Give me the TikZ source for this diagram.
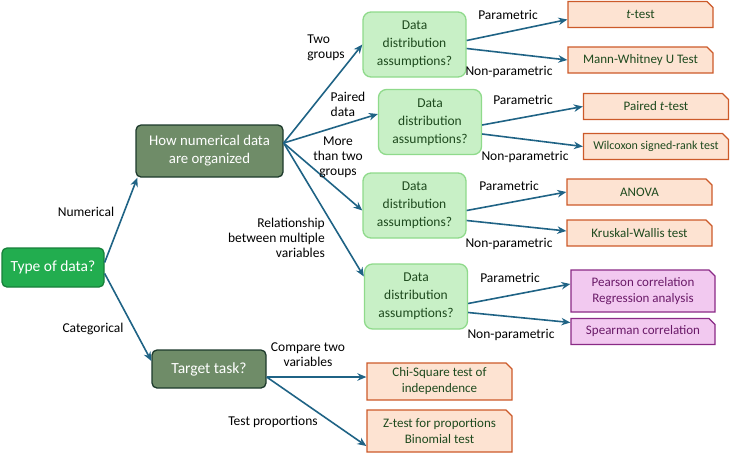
\documentclass[tikz,border=0pt]{standalone}
\usepackage{fontspec}
\setmainfont{Carlito}
\usetikzlibrary{positioning, arrows.meta, shapes.misc}

\definecolor{rootgreen}{HTML}{22AD4F}
\definecolor{rootedge}{HTML}{17803A}
\definecolor{sage}{HTML}{6F8C68}
\definecolor{sageedge}{HTML}{1D3A2C}
\definecolor{palegreen}{HTML}{C8F0C6}
\definecolor{paleedge}{HTML}{8FDA8B}
\definecolor{peach}{HTML}{FDE3D2}
\definecolor{peachedge}{HTML}{CC5A2A}
\definecolor{lilac}{HTML}{F2C9F0}
\definecolor{lilacedge}{HTML}{8A2A86}
\definecolor{darkgreen}{HTML}{1E4A1E}
\definecolor{plum}{HTML}{6A1A68}
\definecolor{linkblue}{HTML}{1F6385}

\begin{document}
\begin{tikzpicture}[x=1pt, y=-1pt, >={Stealth[length=9pt, width=7.5pt]},
    font=\fontsize{13.5}{15}\selectfont,
    base/.style={draw, line width=1.3pt, align=center, inner sep=0pt},
    rootbox/.style={base, rounded corners=5pt, fill=rootgreen, draw=rootedge, text=white,
      font=\fontsize{15.5}{17}\selectfont},
    sagebox/.style={base, rounded corners=5pt, fill=sage, draw=sageedge, text=white,
      font=\fontsize{14.8}{18}\selectfont},
    askbox/.style={base, rounded corners=8pt, fill=palegreen, draw=paleedge, text=darkgreen,
      minimum width=103pt, minimum height=65pt, font=\fontsize{13.5}{18}\selectfont},
    testbox/.style={base, chamfered rectangle, chamfered rectangle corners=north east,
      chamfered rectangle xsep=3pt, chamfered rectangle ysep=3pt,
      fill=peach, draw=peachedge, text=darkgreen,
      minimum width=145pt, minimum height=26pt, font=\fontsize{13}{16}\selectfont},
    corrbox/.style={testbox, fill=lilac, draw=lilacedge, text=plum},
    link/.style={->, draw=linkblue, line width=1.6pt},
    lbl/.style={inner sep=1pt, align=center}]
  \useasboundingbox (0,0) rectangle (730,459);

  % left part
  \node[rootbox, minimum width=102pt, minimum height=39pt] (type) at (53,267.5) {Type of data?};
  \node[sagebox, minimum width=147pt, minimum height=52pt] (how) at (209.5,151) {How numerical data\\are organized};
  \node[sagebox, minimum width=114pt, minimum height=38pt, font=\fontsize{15.5}{17}\selectfont] (target) at (209,369) {Target task?};

  % distribution questions
  \node[askbox] (dd1) at (414.5,44.5)  {Data\\distribution\\assumptions?};
  \node[askbox] (dd2) at (430,122)     {Data\\distribution\\assumptions?};
  \node[askbox] (dd3) at (414.5,205.5) {Data\\distribution\\assumptions?};
  \node[askbox] (dd4) at (416,296.5)   {Data\\distribution\\assumptions?};

  % tests
  \node[testbox] (ttest)  at (640.5,14.5) {\textit{t}-test};
  \node[testbox] (mwu)    at (640.5,60)   {Mann-Whitney U Test};
  \node[testbox] (paired) at (656,106.5)  {Paired \textit{t}-test};
  \node[testbox, font=\fontsize{12}{14}\selectfont] (wilcox) at (656,146.5) {Wilcoxon signed-rank test};
  \node[testbox] (anova)  at (639.5,192)  {ANOVA};
  \node[testbox] (kruskal) at (639.5,233) {Kruskal-Wallis test};
  \node[corrbox, minimum width=144pt, minimum height=42pt] (pearson) at (643,291) {Pearson correlation\\Regression analysis};
  \node[corrbox, minimum width=144pt] (spearman) at (643,331.5) {Spearman correlation};
  \node[testbox, minimum height=37pt] (chisq) at (439.5,381.5) {Chi-Square test of\\independence};
  \node[testbox, minimum height=42pt] (ztest) at (439.5,431) {Z-test for proportions\\Binomial test};

  % connectors
  \draw[link] ([yshift=5pt]type.east) -- ([xshift=2pt]how.south west);
  \draw[link] ([yshift=-6pt]type.east) -- ([yshift=8pt]target.west);
  \draw[link] ([yshift=8pt]how.east) -- (dd1.west);
  \draw[link] ([yshift=8pt]how.east) -- ([yshift=8pt]dd2.west);
  \draw[link] ([yshift=8pt]how.east) -- ([yshift=-5pt]dd3.west);
  \draw[link] ([yshift=8pt]how.east) -- ([yshift=20pt]dd4.west);
  \draw[link] ([yshift=4pt]dd1.east) -- ([yshift=-5pt]ttest.west);
  \draw[link] ([yshift=-4pt]dd1.east) -- (mwu.west);
  \draw[link] ([yshift=-3pt]dd2.east) -- (paired.west);
  \draw[link] ([yshift=-12pt]dd2.east) -- (wilcox.west);
  \draw[link] ([yshift=-5pt]dd3.east) -- (anova.west);
  \draw[link] ([yshift=-15pt]dd3.east) -- ([yshift=2pt]kruskal.west);
  \draw[link] ([yshift=-7pt]dd4.east) -- ([yshift=7pt]pearson.west);
  \draw[link] ([yshift=-16pt]dd4.east) -- ([yshift=9pt]spearman.west);
  \draw[link] ([yshift=-8pt]target.east) -- ([yshift=4.5pt]chisq.west);
  \draw[link] ([yshift=-8pt]target.east) -- ([yshift=-15pt]ztest.west);

  % edge labels
  \node[lbl] (lnum) at (86,212) {Numerical};
  \node[lbl] (lcat) at (93,329) {Categorical};
  \node[lbl, align=left] (ltwo) at (326,48) {Two\\groups};
  \node[lbl, align=left] (lpair) at (348,104) {Paired\\data};
  \node[lbl] (lmore) at (338,157) {More\\than two\\groups};
  \node[lbl, align=right, anchor=east] (lrel) at (326,238) {Relationship\\between multiple\\variables};
  \node[lbl] (lp1) at (508,15)  {Parametric};
  \node[lbl] (ln1) at (509,72)  {Non-parametric};
  \node[lbl] (lp2) at (523,100) {Parametric};
  \node[lbl] (ln2) at (525,157) {Non-parametric};
  \node[lbl] (lp3) at (509,186) {Parametric};
  \node[lbl] (ln3) at (509,244) {Non-parametric};
  \node[lbl] (lp4) at (510,278) {Parametric};
  \node[lbl] (ln4) at (511,335) {Non-parametric};
  \node[lbl] (lcmp) at (308,355) {Compare two\\variables};
  \node[lbl] (lprop) at (273,422) {Test proportions};
\end{tikzpicture}
\end{document}
